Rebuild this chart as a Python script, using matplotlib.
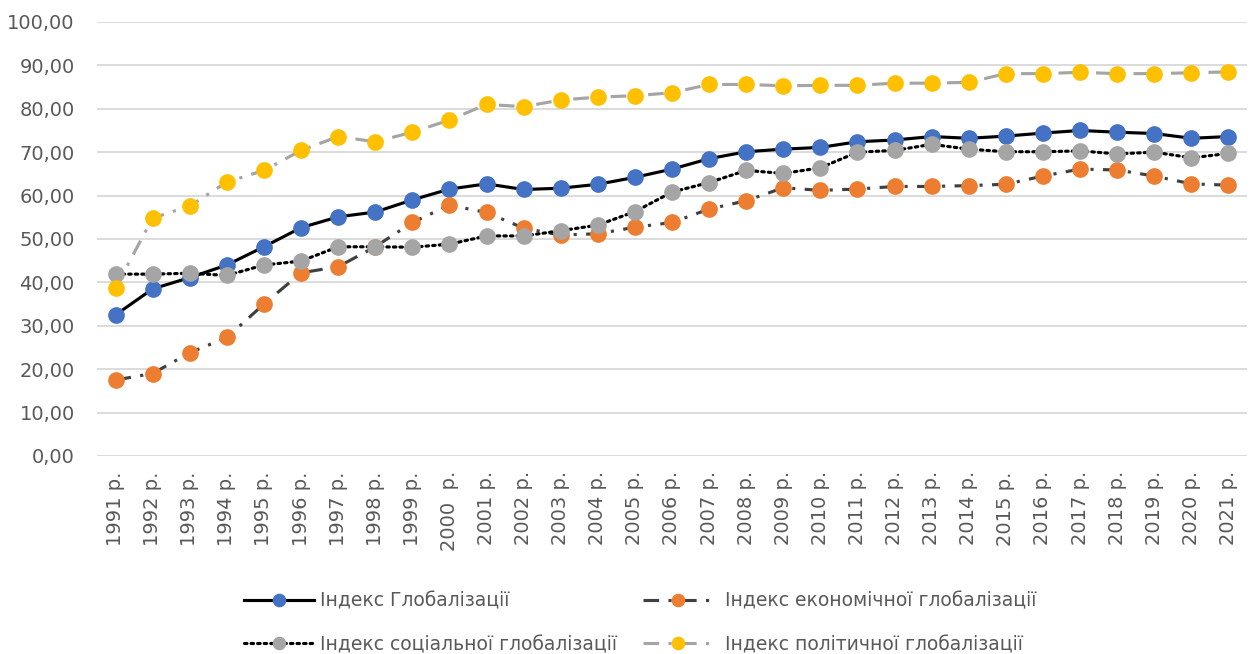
import numpy as np
import matplotlib
matplotlib.use("Agg")
import matplotlib.pyplot as plt

plt.rcParams['font.family'] = ['DejaVu Sans']

# years 1991-2021
years = [f"{y} р." for y in range(1991, 2022)]
years[9] = "2000  р."

glob_idx = [32.5, 38.5, 41.1, 44.0, 48.2, 52.6, 55.1, 56.2, 59.0, 61.5,
            62.7, 61.4, 61.7, 62.6, 64.2, 66.1, 68.5, 70.1, 70.7, 71.1,
            72.4, 72.8, 73.6, 73.2, 73.7, 74.4, 75.0, 74.6, 74.3, 73.2, 73.6]
econ_idx = [17.5, 19.0, 23.8, 27.3, 35.0, 42.2, 43.6, 48.2, 53.8, 57.8,
            56.1, 52.5, 50.9, 51.2, 52.7, 53.8, 56.9, 58.8, 61.8, 61.2,
            61.5, 62.1, 62.1, 62.3, 62.6, 64.5, 66.1, 65.9, 64.5, 62.7, 62.4]
soc_idx = [41.9, 41.9, 42.1, 41.6, 44.0, 44.9, 48.2, 48.2, 48.1, 48.8,
           50.7, 50.7, 51.9, 53.2, 56.3, 60.8, 63.0, 65.8, 65.1, 66.4,
           70.0, 70.4, 71.8, 70.7, 70.1, 70.1, 70.3, 69.6, 70.0, 68.7, 69.7]
pol_idx = [38.8, 54.8, 57.6, 63.1, 65.8, 70.4, 73.6, 72.4, 74.6, 77.4,
           81.0, 80.5, 82.0, 82.7, 83.0, 83.7, 85.6, 85.6, 85.3, 85.4,
           85.4, 85.9, 85.9, 86.1, 88.1, 88.1, 88.4, 88.1, 88.1, 88.3, 88.5]

labels = ["Індекс Глобалізації", " Індекс економічної глобалізації",
          "Індекс соціальної глобалізації", " Індекс політичної глобалізації"]

fig = plt.figure(figsize=(12.5, 6.54), dpi=100)
ax = fig.add_axes([0.0776, 0.3028, 0.92, 0.6636])

x = np.arange(len(years))
lw = 2.25
ms = 11
dashdot = (0, (5, 3, 1, 3))

l1, = ax.plot(x, glob_idx, color='black', lw=lw, marker='o', ms=ms,
              mfc='#4472C4', mec='#4472C4', label=labels[0])
l2, = ax.plot(x, econ_idx, color='#404040', lw=lw, ls=dashdot,
              marker='o', ms=ms, mfc='#ED7D31', mec='#ED7D31', label=labels[1])
l3, = ax.plot(x, soc_idx, color='black', lw=lw, ls=(0, (0.8, 1.3)),
              dash_capstyle='round', marker='o', ms=ms,
              mfc='#A5A5A5', mec='#A5A5A5', label=labels[2])
l4, = ax.plot(x, pol_idx, color='#A5A5A5', lw=lw, ls=dashdot,
              marker='o', ms=ms, mfc='#FFC000', mec='#FFC000', label=labels[3])

ax.set_xlim(-0.5, len(years) - 0.5)
ax.set_ylim(0, 100)
ax.set_yticks(np.arange(0, 101, 10))
ax.set_yticklabels([f"{v:.2f}".replace('.', ',') for v in np.arange(0, 101, 10)])
ax.set_xticks(x)
ax.set_xticklabels(years, rotation=90, va='top', ha='center')
ax.tick_params(axis='both', length=0, labelsize=14, labelcolor='#595959')
ax.tick_params(axis='y', pad=16)
ax.tick_params(axis='x', pad=11)

ax.grid(axis='y', color='#D9D9D9', lw=1.3)
ax.set_axisbelow(True)
for s in ax.spines.values():
    s.set_visible(False)

# legend filled row by row like in Excel
leg = fig.legend(handles=[l1, l3, l2, l4], loc='center', ncol=2,
                 bbox_to_anchor=(0.5124, 0.048), frameon=False, fontsize=13.5,
                 handlelength=3.7, markerscale=0.8, labelspacing=1.32,
                 columnspacing=1.4, handletextpad=0.35)
for t in leg.get_texts():
    t.set_color('#595959')

fig.savefig("out.png", dpi=100)
